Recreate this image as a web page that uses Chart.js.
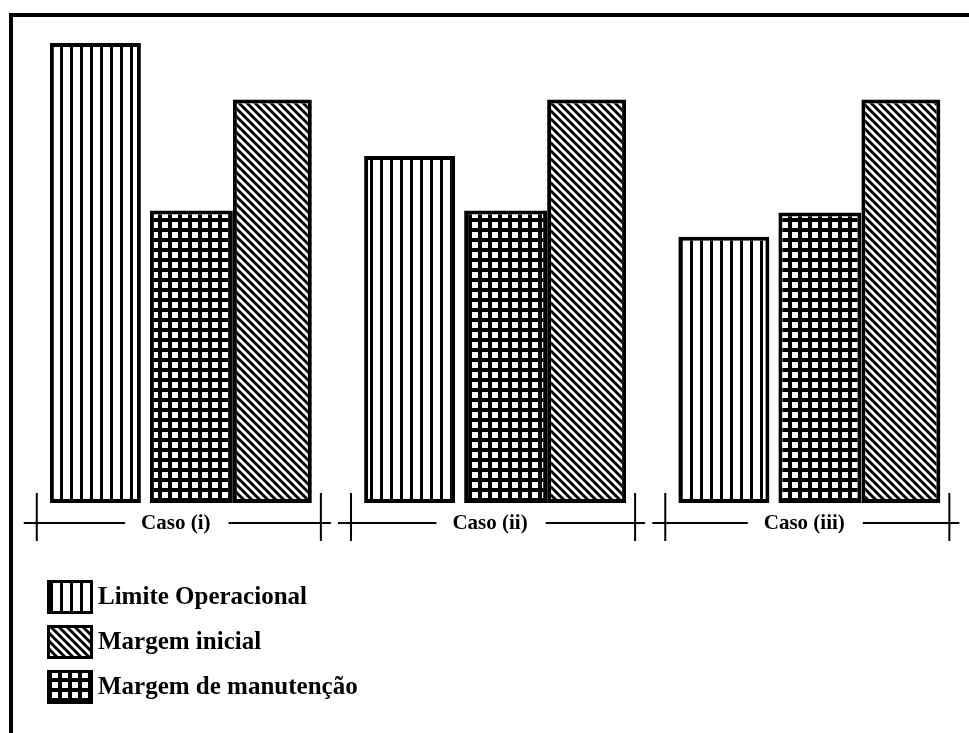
<!DOCTYPE html>
<html>
<head>
<meta charset="utf-8">
<script src="https://cdn.jsdelivr.net/npm/chart.js@4/dist/chart.umd.min.js"></script>
<style>
  body { margin: 0; background: #fff; }
  #chart { display: block; }
</style>
</head>
<body>
<canvas id="chart" width="969" height="733"></canvas>
<script>
// values (arbitrary units, Margem inicial = 100)
const categories = ["Caso (i)", "Caso (ii)", "Caso (iii)"];
const limiteOperacional = [114, 86, 66];
const margemManutencao = [72.5, 72.5, 72];
const margemInicial = [100, 100, 100];
const legendOrder = ["Limite Operacional", "Margem inicial", "Margem de manutenção"];

const FONT = "'Liberation Serif', 'Times New Roman', serif";

// category index -> x position on a linear scale
function toPoints(values) {
    return values.map((v, i) => ({ x: i, y: v }));
}

// hatch patterns like the old printed figure
function makePattern(kind) {
    const c = document.createElement("canvas");
    const g = c.getContext("2d");
    if (kind === "vertical") {
        c.width = 10; c.height = 10;
        g.fillStyle = "#fff";
        g.fillRect(0, 0, 10, 10);
        g.fillStyle = "#000";
        g.fillRect(0, 0, 3, 10);
    } else if (kind === "grid") {
        c.width = 10; c.height = 10;
        g.fillStyle = "#000";
        g.fillRect(0, 0, 10, 10);
        g.fillStyle = "#fff";
        g.fillRect(2, 2, 6, 6);
    } else {
        c.width = 8; c.height = 8;
        g.fillStyle = "#fff";
        g.fillRect(0, 0, 8, 8);
        g.strokeStyle = "#000";
        g.lineWidth = 3;
        for (let k = -1; k <= 1; k++) {
            g.beginPath();
            g.moveTo(-1, -1 + 8 * k);
            g.lineTo(9, 9 + 8 * k);
            g.stroke();
        }
    }
    return g.createPattern(c, "repeat");
}

const ctx = document.getElementById("chart").getContext("2d");

// white page and the frame lines at top / left
const framePlugin = {
    id: "frame",
    beforeDraw(chart) {
        const g = chart.ctx;
        g.save();
        g.fillStyle = "#fff";
        g.fillRect(0, 0, chart.width, chart.height);
        g.strokeStyle = "#000";
        g.lineWidth = 4;
        g.beginPath();
        g.moveTo(11, chart.height);
        g.lineTo(11, 15);
        g.lineTo(chart.width, 15);
        g.stroke();
        g.restore();
    }
};

// bracket under each group with the category name
const bracketPlugin = {
    id: "brackets",
    afterDatasetsDraw(chart) {
        const g = chart.ctx;
        const x = chart.scales.x;
        const w = x.getPixelForValue(1) - x.getPixelForValue(0);
        const y = 523;
        g.save();
        g.strokeStyle = "#000";
        g.fillStyle = "#000";
        g.lineWidth = 2;
        g.font = "bold 21px " + FONT;
        g.textAlign = "center";
        g.textBaseline = "middle";
        categories.forEach(function(label, i) {
            const c = x.getPixelForValue(i) - 0.04 * w;
            const half = 0.452 * w;
            const tx = c - 3;
            const tw = g.measureText(label).width;
            g.beginPath();
            g.moveTo(c - half, 493);
            g.lineTo(c - half, 541);
            g.moveTo(c + half, 493);
            g.lineTo(c + half, 541);
            g.moveTo(c - half - 13, y);
            g.lineTo(tx - tw / 2 - 16, y);
            g.moveTo(tx + tw / 2 + 18, y);
            g.lineTo(c + half + 10, y);
            g.stroke();
            g.fillText(label, tx, y + 1);
        });
        g.restore();
    }
};

// legend stacked at lower left
const legendPlugin = {
    id: "stackLegend",
    afterDraw(chart) {
        const g = chart.ctx;
        g.save();
        g.font = "bold 25px " + FONT;
        g.textBaseline = "middle";
        legendOrder.forEach(function(name, k) {
            const ds = chart.data.datasets.find(d => d.label === name);
            const bx = 47, by = 580 + k * 45, bw = 46, bh = 34;
            g.fillStyle = ds.backgroundColor;
            g.fillRect(bx, by, bw, bh);
            g.strokeStyle = "#000";
            g.lineWidth = 3;
            g.strokeRect(bx + 1.5, by + 1.5, bw - 3, bh - 3);
            g.fillStyle = "#000";
            g.fillText(name, bx + bw + 5, by + bh / 2 + 1);
        });
        g.restore();
    }
};

const chart = new Chart(ctx, {
    type: "bar",
    data: {
        datasets: [
            {
                label: "Limite Operacional",
                data: toPoints(limiteOperacional),
                backgroundColor: makePattern("vertical"),
                categoryPercentage: 0.9165,
                barPercentage: 0.948
            },
            {
                label: "Margem de manutenção",
                data: toPoints(margemManutencao),
                backgroundColor: makePattern("grid"),
                categoryPercentage: 1,
                barPercentage: 0.792
            },
            {
                label: "Margem inicial",
                data: toPoints(margemInicial),
                backgroundColor: makePattern("diagonal"),
                categoryPercentage: 0.773,
                barPercentage: 0.975
            }
        ]
    },
    options: {
        responsive: false,
        animation: false,
        devicePixelRatio: 1,
        layout: { padding: { left: 0, right: 0, top: 43, bottom: 230 } },
        datasets: {
            bar: {
                borderColor: "#000",
                borderWidth: 4,
                borderSkipped: false
            }
        },
        scales: {
            x: {
                type: "linear",
                display: false,
                offset: false,
                min: -0.609,
                max: 2.4745,
                // one tick per case, so the bar width follows the case spacing
                afterBuildTicks: function(scale) {
                    scale.ticks = categories.map((c, i) => ({ value: i }));
                }
            },
            y: { display: false, min: 0, max: 114 }
        },
        plugins: {
            legend: { display: false },
            tooltip: { enabled: false }
        }
    },
    plugins: [framePlugin, bracketPlugin, legendPlugin]
});
</script>
</body>
</html>
